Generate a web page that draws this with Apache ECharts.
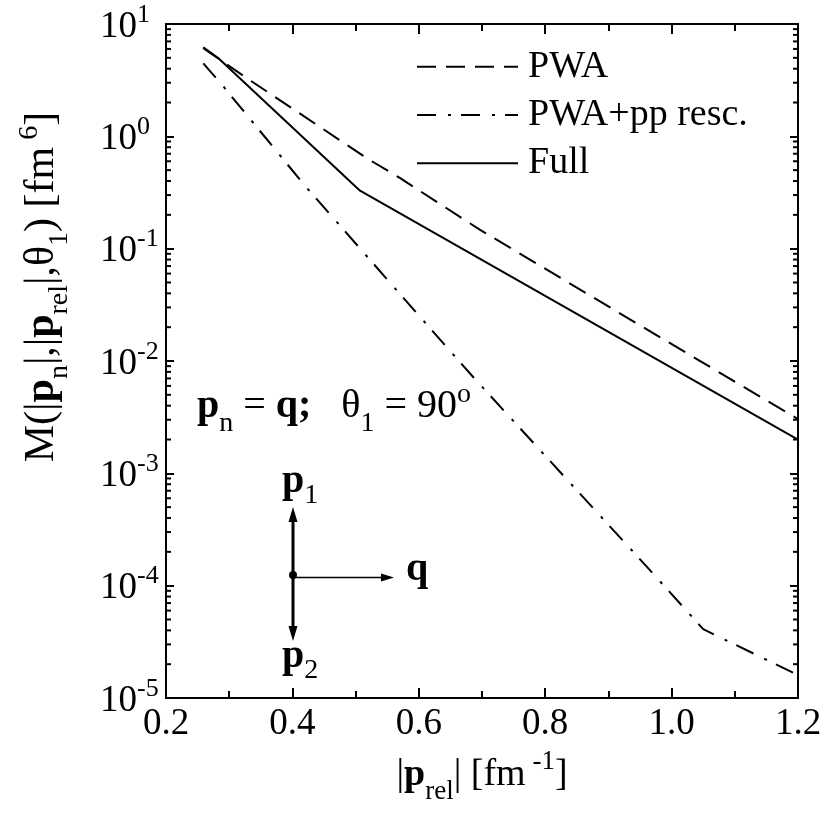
<!DOCTYPE html>
<html>
<head>
<meta charset="utf-8">
<script src="https://cdn.jsdelivr.net/npm/echarts@6/dist/echarts.min.js"></script>
<style>
  html, body { margin: 0; padding: 0; background: #fff; }
  #chart { width: 827px; height: 835px; }
</style>
</head>
<body>
<div id="chart"></div>
<script>
// ---- data: M(|p_n|,|p_rel|,theta_1) in fm^6 versus |p_rel| in fm^-1 ----
const seriesNames = ['PWA', 'PWA+pp resc.', 'Full'];

const pwaX = [0.259, 0.322, 0.518, 0.570, 0.697, 0.976, 1.2];
const pwaY = [6.1, 3.47, 0.637, 0.426, 0.147, 0.0170, 0.00304];

const ppX = [0.259, 0.291, 0.419, 0.641, 0.686, 0.961, 1.050, 1.2];
const ppY = [4.47, 2.77, 0.368, 0.0139, 0.0072, 1.47e-4, 4.1e-5, 1.6e-5];

const fullX = [0.259, 0.283, 0.507, 1.2];
const fullY = [6.2, 4.95, 0.328, 0.0020];

// axis ticks
const xTickLabels = ['0.2', '0.4', '0.6', '0.8', '1.0', '1.2'];
const yExponents = [-5, -4, -3, -2, -1, 0, 1];
const yMinorMantissas = [2, 3, 4, 5, 6, 7, 8, 9];

// ---- styling helpers ----
const FONT = 'Liberation Serif';
const dashPWA = [19, 10];
const dashPP = [19, 12, 3, 10];

// rich-text styles for sub- and superscripts
function scriptStyles(main, small, drop, lift) {
  const L = main + 14;
  const k = 0.3375;
  const subC = L / 2 + drop + k * main - k * small;
  const supC = L / 2 - lift + k * main - k * small;
  const subH = 2 * (L - subC);
  const supH = 2 * supC;
  return {
    m: { fontFamily: FONT, fontSize: main, lineHeight: L, color: '#000' },
    b: { fontFamily: FONT, fontSize: main, fontWeight: 'bold', lineHeight: L, color: '#000' },
    sub: { fontFamily: FONT, fontSize: small, height: subH, lineHeight: subH, verticalAlign: 'bottom', color: '#000' },
    sup: { fontFamily: FONT, fontSize: small, height: supH, lineHeight: supH, verticalAlign: 'top', color: '#000' }
  };
}
const richTick = scriptStyles(37, 26, 13, 16);
const richTitle = scriptStyles(38, 27, 13, 17);
const richYTitle = scriptStyles(42, 28, 13, 17);
const richNote = scriptStyles(40, 28, 13, 16);

const pairs = (xs, ys) => xs.map((x, i) => [x, ys[i]]);

const yMinorTicks = [];
yExponents.slice(0, -1).forEach(e => {
  yMinorMantissas.forEach(m => yMinorTicks.push([0.2, m * Math.pow(10, e)]));
});

const frame = { show: true, onZero: false, lineStyle: { color: '#000', width: 2 } };
const xTicks = { show: true, inside: true, length: 10, lineStyle: { color: '#000', width: 2 } };
const xMinor = { show: true, splitNumber: 2, length: 7, lineStyle: { color: '#000', width: 2 } };
const yTicks = { show: true, inside: true, length: 8, lineStyle: { color: '#000', width: 2 } };

const chart = echarts.init(document.getElementById('chart'), null, { renderer: 'canvas' });

const legendTop = 66.7, legendStep = 48.3, legendX1 = 417, legendX2 = 518;
const legendDashes = [dashPWA, dashPP, null];

const graphic = [];
seriesNames.forEach((name, i) => {
  const y = legendTop + legendStep * i;
  graphic.push({
    type: 'line', silent: true,
    shape: { x1: legendX1, y1: y, x2: legendX2, y2: y },
    style: { stroke: '#000', lineWidth: 2, lineDash: legendDashes[i] }
  });
  graphic.push({
    type: 'text', silent: true, x: 528, y: y,
    style: { text: name, fontFamily: FONT, fontSize: 38, fill: '#000', verticalAlign: 'middle', align: 'left' }
  });
});

// kinematics note
graphic.push({
  type: 'text', silent: true, x: 197, y: 420 - 0.3375 * 40,
  style: {
    text: '{b|p}{sub|n}{m| = }{b|q;}{m|   \u03b8}{sub|1}{m| = 90}{sup|o}',
    rich: richNote, verticalAlign: 'middle', align: 'left'
  }
});

// momentum diagram
const cx = 293, cy = 575;
graphic.push(
  { type: 'line', silent: true, shape: { x1: cx, y1: 518, x2: cx, y2: 630 }, style: { stroke: '#000', lineWidth: 3 } },
  { type: 'polygon', silent: true, shape: { points: [[cx, 507], [cx - 4.5, 522], [cx + 4.5, 522]] }, style: { fill: '#000' } },
  { type: 'polygon', silent: true, shape: { points: [[cx, 641], [cx - 4.5, 626], [cx + 4.5, 626]] }, style: { fill: '#000' } },
  { type: 'line', silent: true, shape: { x1: cx, y1: 577.5, x2: 384, y2: 577.5 }, style: { stroke: '#000', lineWidth: 1.5 } },
  { type: 'polygon', silent: true, shape: { points: [[394, 577.5], [381, 573.5], [381, 581.5]] }, style: { fill: '#000' } },
  { type: 'circle', silent: true, shape: { cx: cx, cy: cy, r: 4 }, style: { fill: '#000' } },
  { type: 'text', silent: true, x: 282, y: 495 - 0.3375 * 40,
    style: { text: '{b|p}{sub|1}', rich: scriptStyles(40, 28, 10, 16), verticalAlign: 'middle', align: 'left' } },
  { type: 'text', silent: true, x: 282, y: 670 - 0.3375 * 40,
    style: { text: '{b|p}{sub|2}', rich: scriptStyles(40, 28, 10, 16), verticalAlign: 'middle', align: 'left' } },
  { type: 'text', silent: true, x: 406, y: 583 - 0.3375 * 40,
    style: { text: '{b|q}', rich: richNote, verticalAlign: 'middle', align: 'left' } }
);

// y-axis title, reading bottom to top
graphic.push({
  type: 'text', silent: true, x: 42, y: 287, rotation: Math.PI / 2,
  style: {
    text: '{m|M(|}{b|p}{sub|n}{m||,|}{b|p}{sub|rel}{m||,\u03b8}{sub|1}{m|) [fm}{sup| 6}{m|]}',
    rich: richYTitle, align: 'center', verticalAlign: 'middle'
  }
});

const option = {
  animation: false,
  backgroundColor: '#fff',
  grid: { left: 166, right: 29, top: 24, bottom: 137, containLabel: false, outerBoundsMode: 'none' },
  xAxis: [
    {
      type: 'value', min: 0.2, max: 1.2, interval: 0.2, position: 'bottom',
      axisLine: frame, axisTick: xTicks, minorTick: xMinor,
      splitLine: { show: false }, minorSplitLine: { show: false },
      axisLabel: {
        margin: 8, fontFamily: FONT, fontSize: 37, lineHeight: 37, color: '#000',
        formatter: v => xTickLabels[Math.round((v - 0.2) / 0.2)]
      },
      name: '{m||}{b|p}{sub|rel}{m|| [fm}{sup| -1}{m|]}',
      nameLocation: 'middle', nameGap: 51,
      nameTextStyle: { rich: richTitle }
    },
    {
      type: 'value', min: 0.2, max: 1.2, interval: 0.2, position: 'top',
      axisLine: frame, axisTick: xTicks, minorTick: xMinor,
      splitLine: { show: false }, minorSplitLine: { show: false },
      axisLabel: { show: false }
    }
  ],
  yAxis: [
    {
      type: 'log', logBase: 10, min: 1e-5, max: 10, position: 'left',
      axisLine: frame, axisTick: yTicks,
      splitLine: { show: false },
      axisLabel: {
        align: 'left', margin: 66, padding: [6, 0, 0, 0], rich: richTick,
        formatter: v => {
          const e = Math.round(Math.log10(v));
          return yExponents.indexOf(e) >= 0 ? '{m|10}{sup|' + e + '}' : '';
        }
      }
    },
    {
      type: 'log', logBase: 10, min: 1e-5, max: 10, position: 'right',
      axisLine: frame, axisTick: yTicks,
      splitLine: { show: false },
      axisLabel: { show: false }
    }
  ],
  series: [
    {
      name: seriesNames[0], type: 'line', xAxisIndex: 0, yAxisIndex: 0,
      data: pairs(pwaX, pwaY), symbol: 'none', showSymbol: false, smooth: false,
      lineStyle: { color: '#000', width: 2, type: dashPWA }
    },
    {
      name: seriesNames[1], type: 'line', xAxisIndex: 0, yAxisIndex: 0,
      data: pairs(ppX, ppY), symbol: 'none', showSymbol: false,
      lineStyle: { color: '#000', width: 2, type: dashPP }
    },
    {
      name: seriesNames[2], type: 'line', xAxisIndex: 0, yAxisIndex: 0,
      data: pairs(fullX, fullY), symbol: 'none', showSymbol: false,
      lineStyle: { color: '#000', width: 2, type: 'solid' }
    },
    {
      // minor decade ticks on the left and right frame
      type: 'custom', xAxisIndex: 0, yAxisIndex: 0, silent: true, clip: false,
      data: yMinorTicks,
      renderItem: (params, api) => {
        const l = api.coord([0.2, api.value(1)]);
        const r = api.coord([1.2, api.value(1)]);
        const st = { stroke: '#000', lineWidth: 2 };
        return {
          type: 'group',
          children: [
            { type: 'line', shape: { x1: l[0], y1: l[1], x2: l[0] + 5, y2: l[1] }, style: st },
            { type: 'line', shape: { x1: r[0], y1: r[1], x2: r[0] - 5, y2: r[1] }, style: st }
          ]
        };
      }
    }
  ],
  graphic: graphic
};

chart.setOption(option);
</script>
</body>
</html>
